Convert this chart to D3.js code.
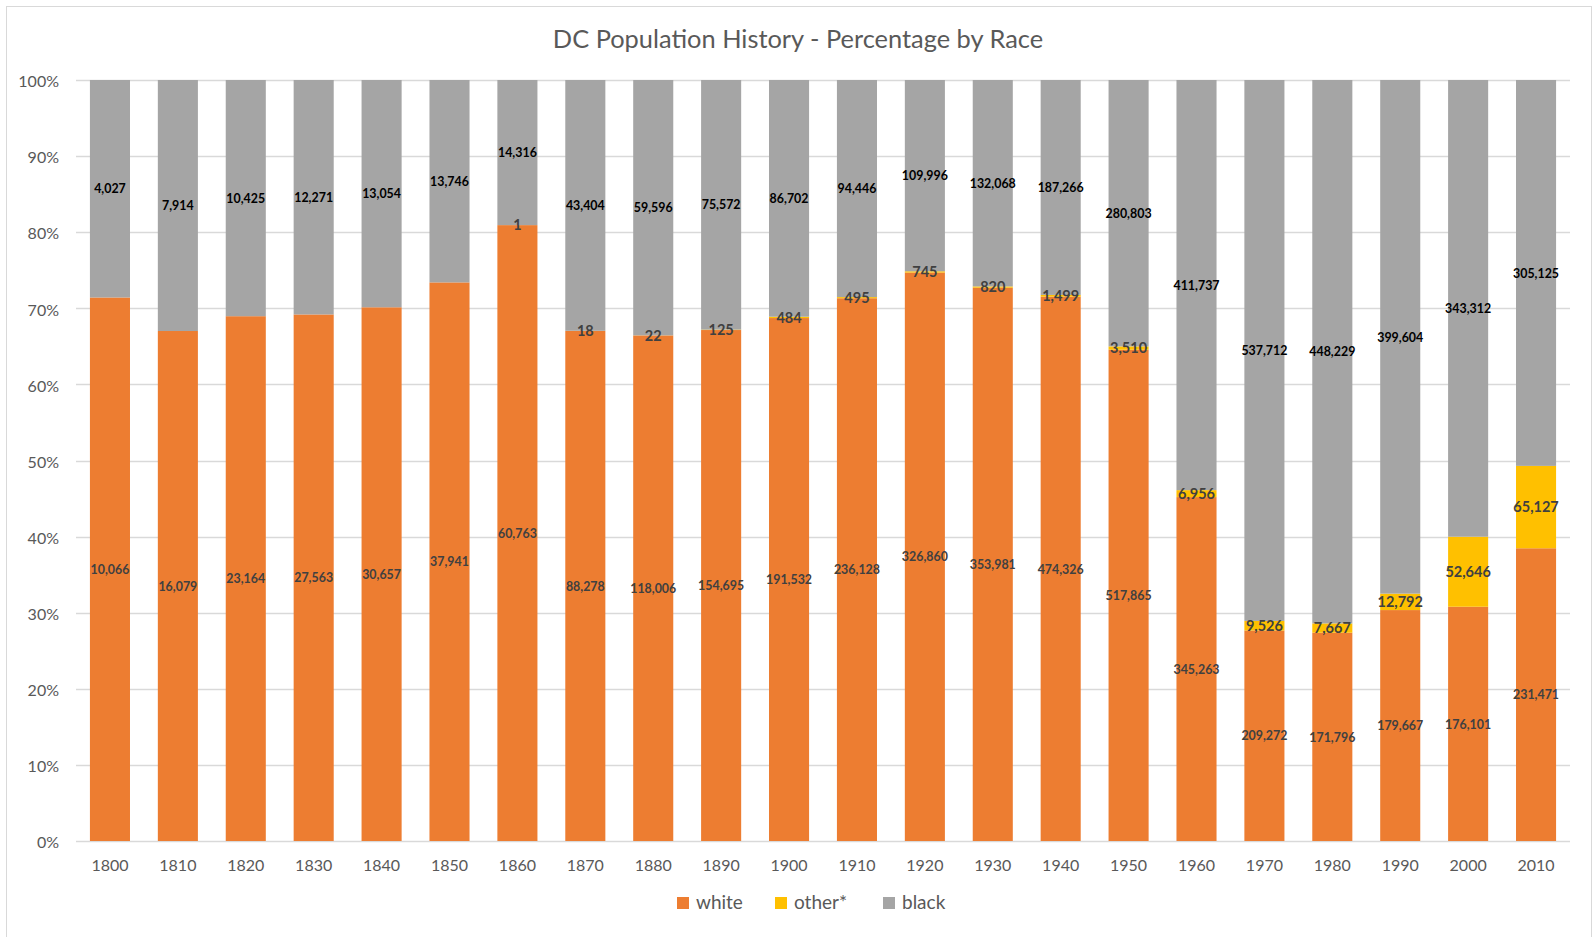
<!DOCTYPE html>
<html lang="en">
<head>
<meta charset="UTF-8">
<title>DC Population History</title>
<script src="https://d3js.org/d3.v7.min.js"></script>
<style>
    body { margin: 0; background: #fff; }
    text { font-family: Lato, "Open Sans", sans-serif; }
</style>
</head>
<body>
<div id="chart"></div>
<script>
    // data
    var years = ["1800", "1810", "1820", "1830", "1840", "1850", "1860", "1870", "1880", "1890", "1900",
        "1910", "1920", "1930", "1940", "1950", "1960", "1970", "1980", "1990", "2000", "2010"];
    var white = [10066, 16079, 23164, 27563, 30657, 37941, 60763, 88278, 118006, 154695, 191532,
        236128, 326860, 353981, 474326, 517865, 345263, 209272, 171796, 179667, 176101, 231471];
    var other = [null, null, null, null, null, null, 1, 18, 22, 125, 484,
        495, 745, 820, 1499, 3510, 6956, 9526, 7667, 12792, 52646, 65127];
    var black = [4027, 7914, 10425, 12271, 13054, 13746, 14316, 43404, 59596, 75572, 86702,
        94446, 109996, 132068, 187266, 280803, 411737, 537712, 448229, 399604, 343312, 305125];
    var seriesNames = ["white", "other*", "black"];
    var yTicks = [0, 0.1, 0.2, 0.3, 0.4, 0.5, 0.6, 0.7, 0.8, 0.9, 1];

    var W = 1593, H = 937;
    var margin = {top: 80, right: 23, bottom: 96, left: 76},
        width = W - margin.left - margin.right,
        height = H - margin.top - margin.bottom;

    var colours = {"white": "#ED7D31", "other*": "#FFC000", "black": "#A5A5A5"};

    var rows = years.map(function(y, i) {
        return {year: y, "white": white[i], "other*": other[i] || 0, "black": black[i], hasOther: other[i] != null};
    });

    var stack = d3.stack().keys(seriesNames).offset(d3.stackOffsetExpand);
    var layers = stack(rows);

    var svg = d3.select("#chart").append("svg")
        .attr("width", W)
        .attr("height", H);

    // chart frame
    svg.append("rect")
        .attr("x", 6.5).attr("y", 6.5)
        .attr("width", W - 8).attr("height", H)
        .attr("fill", "none")
        .attr("stroke", "#D9D9D9");

    svg.append("text")
        .attr("x", 798).attr("y", 42)
        .attr("text-anchor", "middle")
        .attr("dominant-baseline", "middle")
        .style("font-size", "25.4px")
        .style("fill", "#595959")
        .text("DC Population History - Percentage by Race");

    var g = svg.append("g")
        .attr("transform", "translate(" + margin.left + "," + margin.top + ")");

    var x = d3.scaleBand()
        .domain(years)
        .range([0, width])
        .paddingInner(0.41)
        .paddingOuter(0.205);

    var y = d3.scaleLinear()
        .domain([0, 1])
        .range([height, 0]);

    // gridlines
    g.append("g")
        .selectAll("line")
        .data(yTicks)
        .enter().append("line")
        .attr("x1", 0).attr("x2", width)
        .attr("y1", function(d) { return Math.round(y(d)) + 0.5; })
        .attr("y2", function(d) { return Math.round(y(d)) + 0.5; })
        .attr("stroke", "#D9D9D9")
        .attr("stroke-width", 1.3);

    // y axis labels
    var yAxis = g.append("g")
        .call(d3.axisLeft(y).tickValues(yTicks).tickFormat(d3.format(".0%")).tickSize(0).tickPadding(17));
    yAxis.select(".domain").remove();
    yAxis.selectAll("text")
        .attr("dy", "0.42em")
        .style("font-size", "16px")
        .style("font-family", "Lato, 'Open Sans', sans-serif")
        .style("fill", "#595959");

    // bars
    g.append("g")
        .selectAll("g")
        .data(layers)
        .enter().append("g")
        .attr("fill", function(d) { return colours[d.key]; })
        .selectAll("rect")
        .data(function(d) { return d; })
        .enter().append("rect")
        .attr("x", function(d) { return x(d.data.year); })
        .attr("y", function(d) { return y(d[1]); })
        .attr("height", function(d) { return y(d[0]) - y(d[1]); })
        .attr("width", x.bandwidth());

    // data labels
    layers.forEach(function(layer) {
        var key = layer.key;
        var pts = layer.filter(function(d) { return key !== "other*" || d.data.hasOther; });
        g.append("g")
            .selectAll("text")
            .data(pts)
            .enter().append("text")
            .attr("x", function(d) { return x(d.data.year) + x.bandwidth() / 2; })
            .attr("y", function(d) { return y((d[0] + d[1]) / 2) + 1.5; })
            .attr("text-anchor", "middle")
            .attr("dominant-baseline", "middle")
            .style("font-weight", "bold")
            .style("font-size", key === "other*" ? "14.5px" : "12.4px")
            .style("fill", key === "black" ? "#000" : "#404040")
            .text(function(d) { return d3.format(",")(d.data[key]); });
    });

    // x axis labels
    var xAxis = g.append("g")
        .attr("transform", "translate(0," + height + ")")
        .call(d3.axisBottom(x).tickSize(0).tickPadding(19));
    xAxis.select(".domain").remove();
    xAxis.selectAll("text")
        .style("font-size", "16px")
        .style("font-family", "Lato, 'Open Sans', sans-serif")
        .style("fill", "#595959");

    // legend
    var legendX = [677, 775, 883];
    var legend = svg.append("g")
        .selectAll("g")
        .data(seriesNames)
        .enter().append("g")
        .attr("transform", function(d, i) { return "translate(" + legendX[i] + ",897)"; });
    legend.append("rect")
        .attr("width", 12).attr("height", 12)
        .attr("fill", function(d) { return colours[d]; });
    legend.append("text")
        .attr("x", 19).attr("y", 7.5)
        .attr("dominant-baseline", "middle")
        .style("font-size", "19px")
        .style("fill", "#595959")
        .text(function(d) { return d; });
</script>
</body>
</html>
